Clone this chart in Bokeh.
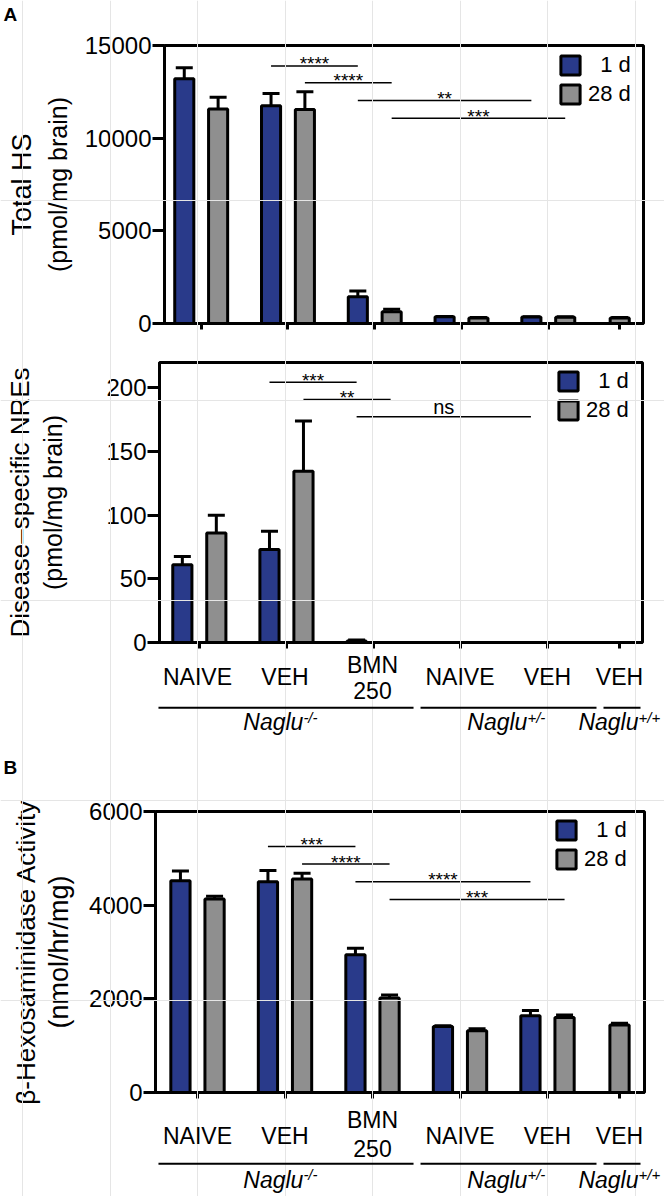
import math
from bokeh.plotting import figure
from bokeh.models import (Range1d, FixedTicker, Whisker, TeeHead, ColumnDataSource, Title,
                          Legend, LegendItem, CustomJSTickFormatter)
from bokeh.embed import file_html
from bokeh.resources import INLINE
from bokeh.core.properties import value

# ---------------- data ----------------
treatments = ["NAIVE", "VEH", "BMN 250", "NAIVE", "VEH", "VEH"]
genotype_labels = ["-/-", "+/-", "+/+"]
series_names = ["\u20071 d", "28 d"]
panel_letters = ["A", "B"]

# Total HS (pmol/mg brain)
hs_1d = [13200, 11750, 1450, 360, 350, None]
hs_1d_sem = [600, 660, 300, 20, 20, None]
hs_28d = [11570, 11550, 640, 300, 340, 300]
hs_28d_sem = [640, 950, 130, 20, 20, 20]
hs_sig_from = [1, 1, 2, 2]
hs_sig_to = [2, 2, 4, 4]
hs_sig_series = [0, 1, 0, 1]
hs_sig_text = ["****", "****", "**", "***"]
hs_sig_y = [13900, 12990, 12030, 11080]
hs_ticks = [0, 5000, 10000, 15000]

# Disease-specific NREs (pmol/mg brain)
nre_1d = [61, 73, 1.2, 0, 0, None]
nre_1d_sem = [6.5, 14.5, 0.8, 0, 0, None]
nre_28d = [86, 134.6, 0, 0, 0, 0]
nre_28d_sem = [14, 39.5, 0, 0, 0, 0]
nre_sig_from = [1, 1, 2]
nre_sig_to = [2, 2, 4]
nre_sig_series = [0, 1, 0]
nre_sig_text = ["***", "**", "ns"]
nre_sig_y = [204.5, 190.9, 177.3]
nre_ticks = [0, 50, 100, 150, 200]

# beta-Hexosaminidase activity (nmol/hr/mg)
hex_1d = [4520, 4500, 2940, 1410, 1640, None]
hex_1d_sem = [210, 240, 140, 15, 110, None]
hex_28d = [4130, 4560, 2020, 1320, 1600, 1440]
hex_28d_sem = [60, 120, 60, 40, 55, 40]
hex_sig_from = [1, 1, 2, 2]
hex_sig_to = [2, 2, 4, 4]
hex_sig_series = [0, 1, 0, 1]
hex_sig_text = ["***", "****", "****", "***"]
hex_sig_y = [5253, 4877, 4499, 4121]
hex_ticks = [0, 2000, 4000, 6000]

# ---------------- layout / style ----------------
FONT = "Liberation Sans"
BLUE = "#293a8a"
GREY = "#8f8f8f"
W = 664
H = 1196
GX0 = 197.0      # page x of first group centre
GDX = 87.5       # px per group
GROUP_POS = [0, 1, 2, 3, 4, 4.823]
BAR_OFF = 0.195
BAR_W = 0.22
GENO_LINES = [(-0.446, 2.469), (2.549, 4.56), (4.64, 5.063)]
GENO_TEXT_X = [1.21, 3.77, 5.04]


def ux(px):
    return (px - GX0) / GDX


def bar_x(v1, v28):
    x1, x28 = [], []
    for g, (a, b) in enumerate(zip(v1, v28)):
        both = a is not None and b is not None
        x1.append(GROUP_POS[g] - BAR_OFF if both else GROUP_POS[g])
        x28.append(GROUP_POS[g] + BAR_OFF if both else GROUP_POS[g])
    return x1, x28


def bar_panel(fig_top, fig_h, fl, fr, ft, fb, y_end, ticks, v1, e1, v28, e28,
              s_from, s_to, s_ser, s_txt, s_y, line1, line2, legend_xy):
    top_b = ft - fig_top
    bot_b = fig_h - top_b - (fb - ft)
    p = figure(width=W, height=fig_h, x_range=Range1d(ux(fl), ux(fr)), y_range=Range1d(0, y_end),
               min_border_left=fl, min_border_right=W - fr,
               min_border_top=top_b, min_border_bottom=bot_b,
               output_backend="svg", toolbar_location=None)
    p.grid.visible = False
    p.outline_line_color = "black"
    p.outline_line_width = 3
    p.background_fill_color = "white"
    p.border_fill_color = "white"
    p.title.text = ""
    px2y = y_end / (fb - ft)

    ya = p.yaxis[0]
    ya.ticker = FixedTicker(ticks=ticks)
    ya.minor_tick_line_color = None
    ya.major_tick_out = 12
    ya.major_tick_in = 0
    ya.major_tick_line_width = 3
    ya.axis_line_width = 3
    ya.major_label_text_font = FONT
    ya.major_label_text_font_size = "24px"
    ya.major_label_text_color = "black"
    ya.major_label_standoff = 1
    text2, size2, standoff2 = line2
    ya.axis_label = text2
    ya.axis_label_text_font = FONT
    ya.axis_label_text_font_size = size2
    ya.axis_label_text_font_style = "normal"
    ya.axis_label_text_color = "black"
    ya.axis_label_standoff = standoff2
    text1, size1, standoff1 = line1
    p.add_layout(Title(text=text1, align="center", text_font=FONT, text_font_size=size1,
                       text_font_style="normal", text_color="black", standoff=standoff1), "left")

    xa = p.xaxis[0]
    xa.ticker = FixedTicker(ticks=GROUP_POS)
    xa.minor_tick_line_color = None
    xa.major_tick_out = 6
    xa.major_tick_in = 0
    xa.major_tick_line_width = 3
    xa.axis_line_width = 3
    xa.formatter = CustomJSTickFormatter(code="return ''")
    xa.major_label_text_font_size = "0px"
    xa.major_label_standoff = 0

    x1, x28 = bar_x(v1, v28)
    renderers = []
    for xs, vals, errs, col in ((x1, v1, e1, BLUE), (x28, v28, e28, GREY)):
        d = dict(x=[], top=[], upper=[])
        for x, v, e in zip(xs, vals, errs):
            if v is None:
                continue
            d["x"].append(x)
            d["top"].append(v)
            d["upper"].append(v + e)
        src = ColumnDataSource(d)
        r = p.vbar(x="x", top="top", width=BAR_W, source=src, fill_color=col,
                   line_color="black", line_width=3)
        renderers.append(r)
        p.add_layout(Whisker(source=src, base="x", lower="top", upper="upper", dimension="height",
                             line_width=3, line_color="black", lower_head=None,
                             upper_head=TeeHead(size=17, line_width=3, line_color="black")))

    # significance bars
    xs_by_series = (x1, x28)
    sd = dict(x0=[], x1=[], y=[], xm=[], ty=[], t=[], fs=[])
    for a, b, s, t, y in zip(s_from, s_to, s_ser, s_txt, s_y):
        xa_, xb_ = xs_by_series[s][a], xs_by_series[s][b]
        sd["x0"].append(xa_)
        sd["x1"].append(xb_)
        sd["y"].append(y)
        sd["xm"].append((xa_ + xb_) / 2)
        sd["ty"].append(y + (10 if t == "ns" else 2) * px2y)
        sd["t"].append(t)
        sd["fs"].append("20px" if t == "ns" else "19px")
    ssrc = ColumnDataSource(sd)
    p.segment(x0="x0", y0="y", x1="x1", y1="y", source=ssrc, line_color="black", line_width=1.5)
    p.text(x="xm", y="ty", text="t", source=ssrc, text_font=value(FONT),
           text_font_size="fs", text_align="center", text_baseline="middle", text_color="black")

    legend = Legend(items=[LegendItem(label=series_names[0], renderers=[renderers[0]]),
                           LegendItem(label=series_names[1], renderers=[renderers[1]])],
                    location=legend_xy, margin=0, padding=0, spacing=3,
                    glyph_width=24, glyph_height=24, label_height=24, label_standoff=6,
                    label_text_font=FONT, label_text_font_size="22px", label_text_color="black",
                    border_line_color=None, background_fill_alpha=0)
    p.add_layout(legend)
    return p


def add_category_labels(q, y_single, y_two, y_line, y_geno, y_sup):
    d = dict(x=[], y=[], t=[])
    for g, t in enumerate(treatments):
        parts = t.split(" ")
        if len(parts) == 1:
            d["x"].append(GROUP_POS[g]); d["y"].append(y_single); d["t"].append(t)
        else:
            for part, yy in zip(parts, y_two):
                d["x"].append(GROUP_POS[g]); d["y"].append(yy); d["t"].append(part)
    q.text(x="x", y="y", text="t", source=ColumnDataSource(d), text_font=value(FONT),
           text_font_size="23px", text_align="center", text_baseline="middle", text_color="black")
    q.segment(x0=[a for a, b in GENO_LINES], x1=[b for a, b in GENO_LINES],
              y0=[y_line] * 3, y1=[y_line] * 3, line_color="black", line_width=2)
    q.text(x=GENO_TEXT_X, y=[y_geno] * 3, text=["Naglu"] * 3, text_font=value(FONT),
           text_font_style="italic", text_font_size="23px", text_align="right",
           text_baseline="middle", text_color="black")
    q.text(x=GENO_TEXT_X, y=[y_sup] * 3, text=genotype_labels, text_font=value(FONT),
           text_font_style="italic", text_font_size="15px", text_align="left",
           text_baseline="middle", text_color="black")


# legend location = (offset from frame left, legend-bottom height above frame bottom)
p1 = bar_panel(0, 340, 160, 643, 45, 323, 15000, hs_ticks, hs_1d, hs_1d_sem, hs_28d, hs_28d_sem,
               hs_sig_from, hs_sig_to, hs_sig_series, hs_sig_text, hs_sig_y,
               ("Total HS", "27px", 8), ("(pmol/mg brain)", "25px", 10), (394, 216))
p2 = bar_panel(340, 322, 157, 642, 362, 642, 220, nre_ticks, nre_1d, nre_1d_sem, nre_28d, nre_28d_sem,
               nre_sig_from, nre_sig_to, nre_sig_series, nre_sig_text, nre_sig_y,
               ("Disease\u2013specific NREs", "26px", 4), ("(pmol/mg brain)", "25px", 36), (397, 218.6))
p3 = bar_panel(662, 534, 155, 644, 811, 1092, 6000, hex_ticks, hex_1d, hex_1d_sem, hex_28d, hex_28d_sem,
               hex_sig_from, hex_sig_to, hex_sig_series, hex_sig_text, hex_sig_y,
               ("\u03b2-Hexosaminidase Activity", "26px", 1), ("(nmol/hr/mg)", "27px", 12), (399, 220.2))

# transparent overlay carrying the category / genotype labels and panel letters (page pixel y)
ov = figure(width=W, height=H, x_range=Range1d(ux(0), ux(W)), y_range=Range1d(H, 0),
            min_border=0, x_axis_location=None, y_axis_location=None,
            output_backend="svg", toolbar_location=None)
ov.background_fill_color = None
ov.border_fill_color = None
ov.outline_line_color = None
ov.styles = {"position": "absolute", "top": "0px", "left": "0px"}
add_category_labels(ov, 676, (664.7, 690.3), 707.3, 721.5, 716.7)
add_category_labels(ov, 1135, (1119.7, 1148.3), 1163.3, 1179, 1174)
ov.text(x=[ux(3)] * 2, y=[14, 767], text=panel_letters, text_font=value(FONT), text_font_style="bold",
        text_font_size="19px", text_align="left", text_baseline="middle", text_color="black")

open("out.html", "w").write(file_html([p1, p2, p3, ov], INLINE))
